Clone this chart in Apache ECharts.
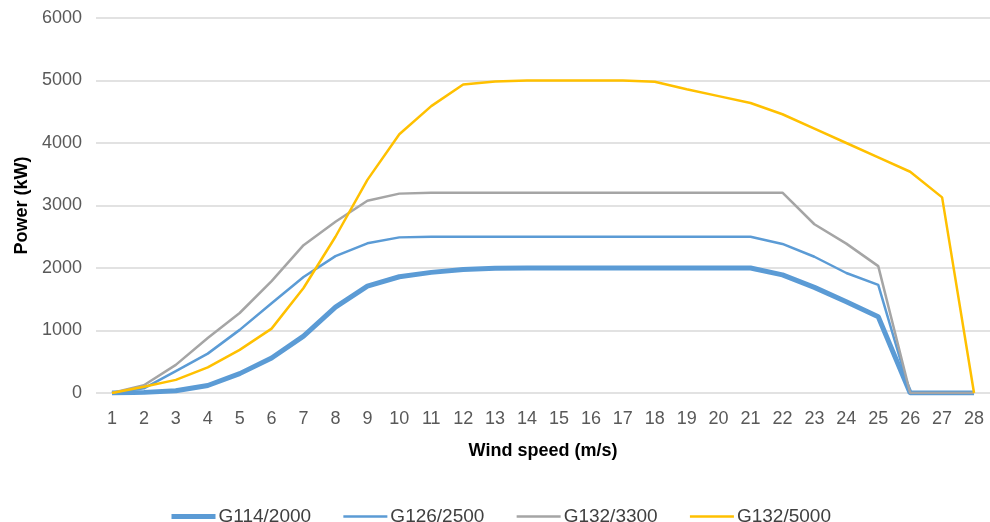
<!DOCTYPE html>
<html>
<head>
<meta charset="utf-8">
<script src="https://cdn.jsdelivr.net/npm/echarts@6/dist/echarts.min.js"></script>
<style>html,body{margin:0;padding:0;background:#fff;}#c{width:990px;height:522px;}</style>
</head>
<body>
<div id="c"></div>
<script>
const windSpeeds = ['1','2','3','4','5','6','7','8','9','10','11','12','13','14','15','16','17','18','19','20','21','22','23','24','25','26','27','28'];
const g114_2000 = [0,10,35,120,310,560,910,1375,1710,1860,1930,1975,1995,2000,2000,2000,2000,2000,2000,2000,2000,1890,1690,1460,1220,0,0,0];
const g126_2500 = [0,75,350,630,1010,1435,1855,2190,2395,2490,2500,2500,2500,2500,2500,2500,2500,2500,2500,2500,2500,2385,2180,1920,1730,0,0,0];
const g132_3300 = [0,125,450,880,1280,1790,2365,2740,3075,3190,3205,3205,3205,3205,3205,3205,3205,3205,3205,3205,3205,3205,2700,2390,2030,0,0,0];
const g132_5000 = [0,100,210,410,690,1030,1680,2500,3410,4140,4590,4935,4985,5000,5000,5000,5000,4980,4860,4750,4640,4460,4230,4000,3770,3540,3130,0];
const yTicks = [0,1000,2000,3000,4000,5000,6000];
const seriesNames = ['G114/2000','G126/2500','G132/3300','G132/5000'];
const seriesColors = ['#5B9BD5','#5B9BD5','#A5A5A5','#FFC000'];
const seriesWidths = [5,2.5,2.5,2.5];
const seriesData = [g114_2000,g126_2500,g132_3300,g132_5000];

const FONT = 'Liberation Sans';
const chart = echarts.init(document.getElementById('c'), null, {renderer:'canvas'});
chart.setOption({
  animation: false,
  backgroundColor: '#ffffff',
  grid: {left: 96, top: 18, width: 897, bottom: 129, containLabel: false},
  legend: {
    data: seriesNames.map((n,i)=>({name:n, lineStyle:{width:seriesWidths[i], color:seriesColors[i]}, itemStyle:{opacity:0}})),
    top: 502,
    left: 164,
    itemWidth: 44,
    itemHeight: 14,
    itemGap: 31,
    itemStyle: {opacity: 0},
    textStyle: {fontFamily: FONT, fontSize: 19, color: '#404040', padding:[0,0,0,-2]}
  },
  xAxis: {
    type: 'category',
    data: windSpeeds,
    boundaryGap: true,
    axisLine: {show: false},
    axisTick: {show: false},
    axisLabel: {fontFamily: FONT, fontSize: 18, color: '#595959', margin: 17},
    name: 'Wind speed (m/s)',
    nameLocation: 'middle',
    nameGap: 49,
    nameTextStyle: {fontFamily: FONT, fontSize: 18, fontWeight: 'bold', color: '#000'}
  },
  yAxis: {
    type: 'value',
    min: yTicks[0],
    max: yTicks[yTicks.length-1],
    interval: 1000,
    axisLine: {show: false},
    axisTick: {show: false},
    splitLine: {lineStyle: {color: '#D9D9D9', width: 1.5}},
    axisLabel: {fontFamily: FONT, fontSize: 18, color: '#595959', margin: 14, formatter: v => String(v)},
    name: 'Power (kW)',
    nameLocation: 'middle',
    nameGap: 62,
    nameRotate: 90,
    nameTextStyle: {fontFamily: FONT, fontSize: 18, fontWeight: 'bold', color: '#000'}
  },
  series: seriesNames.map((n,i)=>({
    name: n, type: 'line', data: seriesData[i], symbol: 'none',
    lineStyle: {color: seriesColors[i], width: seriesWidths[i]},
    itemStyle: {color: seriesColors[i]}
  }))
});
</script>
</body>
</html>
